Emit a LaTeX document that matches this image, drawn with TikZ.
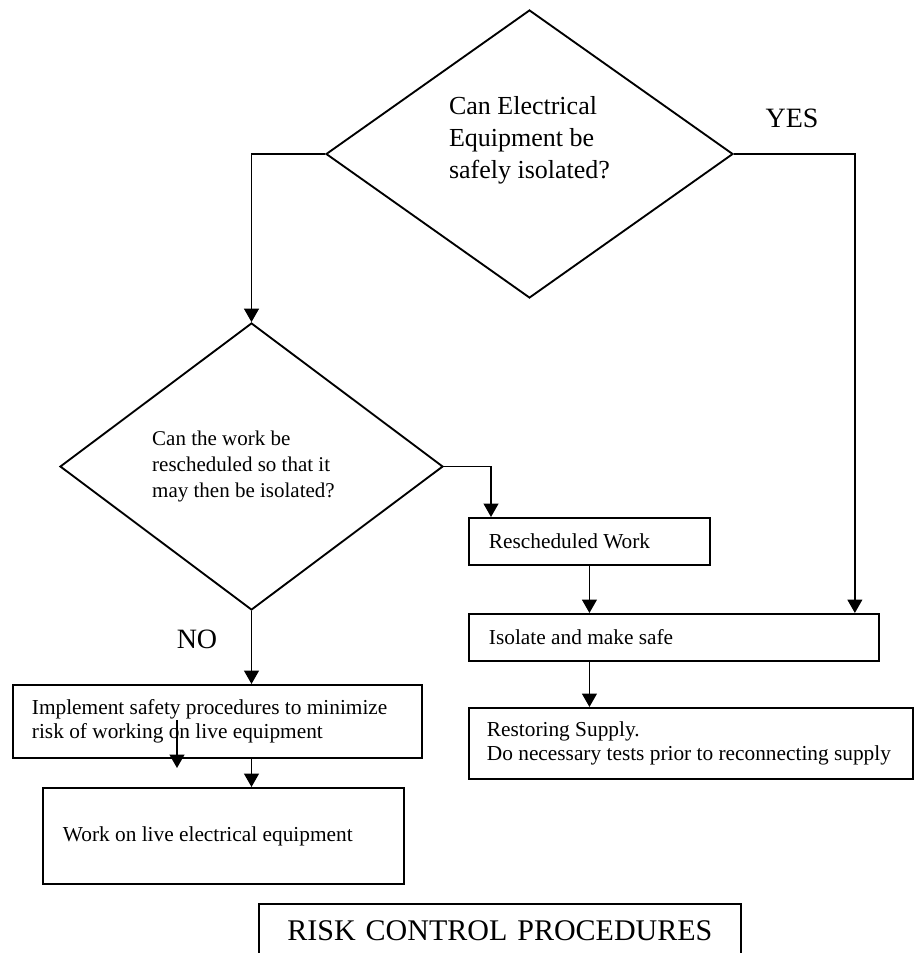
\documentclass[tikz,border=0pt]{standalone}
\usepackage{fontspec}
\setmainfont{Liberation Serif}
\usetikzlibrary{shapes.geometric,arrows.meta}

\begin{document}
\begin{tikzpicture}[x=0.75pt,y=-0.75pt,
    decision/.style={draw, diamond, line width=1.4pt, inner sep=0pt},
    procbox/.style={draw, line width=1.4pt, anchor=north west, align=flush left, inner xsep=15pt, inner ysep=2pt, font=\fontsize{16}{18.5}\selectfont},
    answer/.style={font=\fontsize{21}{24}\selectfont},
    arr/.style={line width=1.4pt, -{Triangle[width=11pt,length=10pt]}}]
    \useasboundingbox (0,0) rectangle (914,953);
    % decisions
    \node[decision, minimum width=305.25pt, minimum height=216pt, font=\fontsize{19.5}{24}\selectfont] (isolq) at (529.5,154) {\raisebox{5.5pt}[0pt][0pt]{\begin{tabular}{@{}l@{}}Can Electrical\\Equipment be\\safely isolated?\end{tabular}}};
    \node[decision, minimum width=287.25pt, minimum height=215.25pt, align=left, font=\fontsize{15.75}{19.5}\selectfont] (reschq) at (251.5,466.5) {Can the work be\\rescheduled so that it\\may then be isolated?\hspace*{12pt}};
    \node[answer] (yes) at (792,118) {YES};
    \node[answer] (no) at (197,639) {NO};
    % boxes
    \node[procbox, text width=150.75pt, minimum height=35.25pt] (resched) at (468,517) {Rescheduled Work};
    \node[procbox, text width=277.5pt, minimum height=35.25pt] (isolate) at (468,613) {Isolate and make safe};
    \node[procbox, text width=306pt, inner xsep=13.5pt, minimum height=53.25pt] (restore) at (468,707) {Restoring Supply.\\Do necessary tests prior to reconnecting supply};
    \node[procbox, text width=278.25pt, inner xsep=14.25pt, minimum height=54.75pt] (implement) at (12,684) {Implement safety procedures to minimize\\risk of working on live equipment};
    \node[procbox, text width=240.75pt, minimum height=72pt] (livework) at (42,787) {Work on live electrical equipment};
    \node[procbox, text width=331.5pt, align=center, minimum height=40.5pt, font=\fontsize{22.5}{26}\selectfont] (title) at (258,903) {RISK CONTROL PROCEDURES};
    % connectors
    \draw[arr] (isolq.west) -| (reschq.north);
    \draw[arr] (isolq.east) -| ([xshift=-18.75pt]isolate.north east);
    \draw[arr] (reschq.east) -| ([xshift=17.25pt]resched.north west);
    \draw[arr] (resched.south) -- (resched.south |- isolate.north);
    \draw[arr] (resched.south |- isolate.south) -- (resched.south |- restore.north);
    \draw[arr] (reschq.south) -- (reschq.south |- implement.north);
    \draw[arr] (reschq.south |- implement.south) -- (reschq.south |- livework.north);
    \coordinate (straytop) at (177,720);
    \coordinate (straytip) at (177,768);
    \draw[arr] (straytop) -- (straytip);
\end{tikzpicture}
\end{document}
